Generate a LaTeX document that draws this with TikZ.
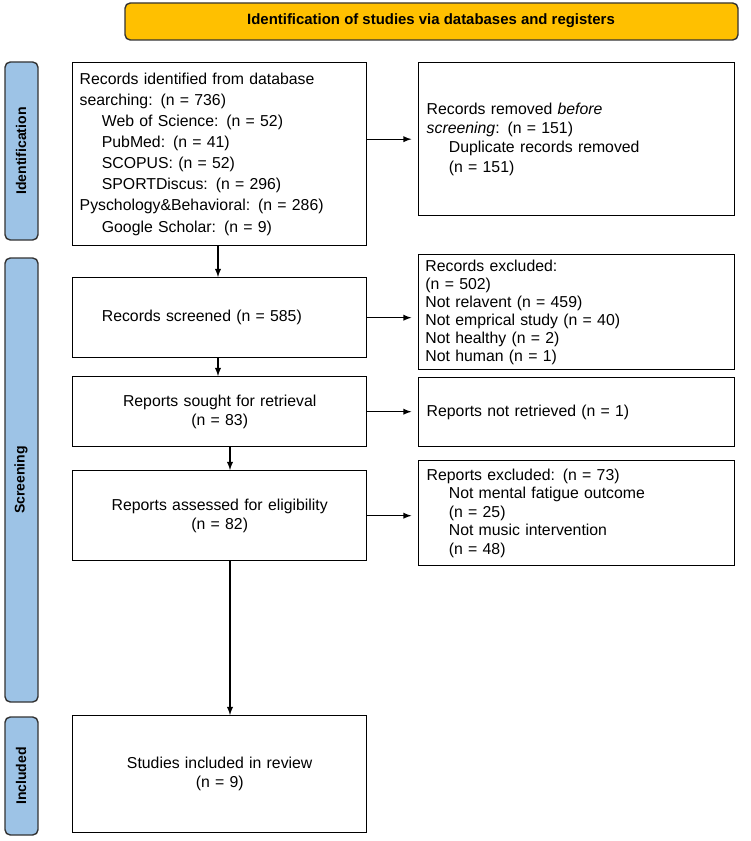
\documentclass[tikz,border=0pt]{standalone}
\usepackage{fontspec}
\setmainfont{Liberation Sans}
\definecolor{bannerfill}{HTML}{FFC000}
\definecolor{sidefill}{HTML}{9DC3E6}
\tikzset{
  box/.style={draw, thick, align=left, anchor=north west, inner sep=4pt,
    font=\fontsize{9}{11}\selectfont},
  side/.style={draw=black!80, thick, fill=sidefill, rounded corners=3pt},
  sidetext/.style={rotate=90, font=\bfseries\fontsize{8}{9}\selectfont},
  arr/.style={-latex, semithick}
}
\begin{document}
\begin{tikzpicture}[x=0.02cm,y=-0.02cm]
\useasboundingbox (0,0) rectangle (750,841);

% banner and phase bars
\filldraw[side, fill=bannerfill] (125,3) rectangle (738,40);
\node[font=\bfseries\fontsize{8.5}{9}\selectfont] (title) at (431,21) {Identification of studies via databases and registers};
\filldraw[side] (5,62) rectangle (38,240);
\node[sidetext] (ident) at (21,151) {Identification};
\filldraw[side] (5,258) rectangle (38,702);
\node[sidetext] (screen) at (21,480) {Screening};
\filldraw[side] (5,717) rectangle (38,835);
\node[sidetext] (incl) at (21,776) {Included};

% left column
\node[box, font=\fontsize{9}{12}\selectfont, minimum width=5.88cm, minimum height=3.66cm, text width=5.6cm] (found) at (72,62) {%
Records identified from database\\searching: (n = 736)\\
\hspace*{1.4em}Web of Science: (n = 52)\\
\hspace*{1.4em}PubMed: (n = 41)\\
\hspace*{1.4em}SCOPUS: (n = 52)\\
\hspace*{1.4em}SPORTDiscus: (n = 296)\\
Pyschology\&Behavioral: (n = 286)\\
\hspace*{1.4em}Google Scholar: (n = 9)};
\node[box, minimum width=5.88cm, minimum height=1.6cm, text width=5.6cm] (screened) at (72,277) {%
\hspace*{1.4em}Records screened (n = 585)};
\node[box, minimum width=5.88cm, minimum height=1.4cm, text width=5.6cm, align=center] (sought) at (72,376) {%
Reports sought for retrieval\\(n = 83)};
\node[box, minimum width=5.88cm, minimum height=1.8cm, text width=5.6cm, align=center] (assessed) at (72,470) {%
Reports assessed for eligibility\\(n = 82)};
\node[box, minimum width=5.88cm, minimum height=2.34cm, text width=5.6cm, align=center] (included) at (72,715) {%
Studies included in review\\(n = 9)};

% right column
\node[box, minimum width=6.32cm, minimum height=3.06cm, text width=6cm] (removed) at (418,62) {%
Records removed \textit{before}\\\textit{screening}: (n = 151)\\
\hspace*{1.4em}Duplicate records removed\\
\hspace*{1.4em}(n = 151)};
\node[box, font=\fontsize{9}{10.2}\selectfont, inner sep=3pt, minimum width=6.32cm, minimum height=2.22cm, text width=6.05cm] (excluded) at (418,254) {%
Records excluded:\\(n = 502)\\Not relavent (n = 459)\\Not emprical study (n = 40)\\Not healthy (n = 2)\\Not human (n = 1)};
\node[box, minimum width=6.32cm, minimum height=1.38cm, text width=6cm] (notret) at (418,377) {%
Reports not retrieved (n = 1)};
\node[box, font=\fontsize{9}{10.5}\selectfont, minimum width=6.32cm, minimum height=2.1cm, text width=6cm] (repexcl) at (418,460) {%
Reports excluded: (n = 73)\\
\hspace*{1.4em}Not mental fatigue outcome\\
\hspace*{1.4em}(n = 25)\\
\hspace*{1.4em}Not music intervention\\
\hspace*{1.4em}(n = 48)};

% connectors
\draw[arr] (found.south -| 218,0) -- (screened.north -| 218,0);
\draw[arr] (screened.south -| 218,0) -- (sought.north -| 218,0);
\draw[arr] (sought.south -| 230,0) -- (assessed.north -| 230,0);
\draw[arr] (assessed.south -| 230,0) -- (included.north -| 230,0);
\draw[arr] (found.east |- removed.west) -- ++(44,0);
\draw[arr] (screened.east) -- ++(44,0);
\draw[arr] (sought.east) -- ++(44,0);
\draw[arr] (assessed.east) -- ++(44,0);
\end{tikzpicture}
\end{document}
